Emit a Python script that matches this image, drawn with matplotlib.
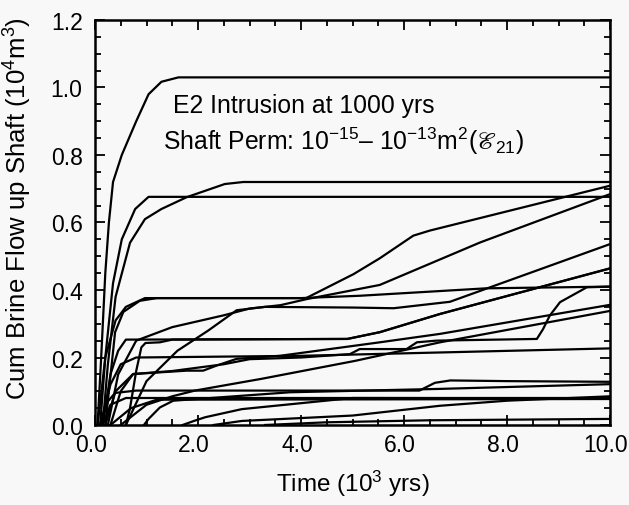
import matplotlib
matplotlib.use("Agg")
import matplotlib.pyplot as plt
import matplotlib.transforms as mtransforms
from matplotlib.ticker import MultipleLocator, FormatStrFormatter

plt.rcParams['font.family'] = ['Liberation Sans', 'DejaVu Sans']
plt.rcParams['mathtext.fontset'] = 'custom'
plt.rcParams['mathtext.rm'] = 'Liberation Sans'
plt.rcParams['mathtext.it'] = 'Liberation Sans:italic'
plt.rcParams['mathtext.fallback'] = 'stix'

# cumulative brine flow curves, (time 10^3 yrs, volume 10^4 m^3)
curve_01 = [(0.05, 0), (0.12, 0.2), (0.2, 0.45), (0.27, 0.6), (0.35, 0.72), (0.52, 0.8), (0.8, 0.9),
            (1.04, 0.98), (1.29, 1.017), (1.62, 1.03), (10, 1.03)]
curve_02 = [(0.1, 0), (0.2, 0.2), (0.35, 0.42), (0.52, 0.55), (0.78, 0.64), (1.04, 0.676), (10, 0.676)]
curve_03 = [(0.15, 0), (0.25, 0.18), (0.4, 0.38), (0.68, 0.54), (0.97, 0.61), (1.29, 0.64), (1.78, 0.675),
            (2.52, 0.714), (2.88, 0.72), (10, 0.72)]
curve_04 = [(0.05, 0), (0.2, 0.2), (0.4, 0.31), (0.6, 0.35), (0.97, 0.376), (4.1, 0.376), (5.02, 0.447),
            (5.53, 0.494), (6.18, 0.561), (6.5, 0.576), (10, 0.709)]
curve_05 = [(0.2, 0), (0.39, 0.275), (0.55, 0.335), (0.87, 0.368), (1.2, 0.376), (4.0, 0.376), (5.15, 0.383),
            (7.6, 0.405), (10, 0.41)]
curve_06 = [(0.25, 0), (0.45, 0.15), (0.8, 0.25), (1.5, 0.29), (2.5, 0.325), (3.0, 0.345), (3.6, 0.355),
            (4.11, 0.373), (5.53, 0.415), (7.48, 0.541), (10, 0.684)]
curve_07 = [(0.6, 0), (1.0, 0.13), (1.6, 0.22), (2.2, 0.28), (2.75, 0.34), (3.3, 0.35), (5.0, 0.348),
            (5.8, 0.346), (6.89, 0.365), (10, 0.536)]
curve_08 = [(0.15, 0), (0.3, 0.15), (0.45, 0.22), (0.6, 0.253), (4.9, 0.255), (5.53, 0.275), (6.7, 0.329),
            (10, 0.464)]
curve_09 = [(0.6, 0), (0.68, 0.05), (0.8, 0.16), (0.9, 0.23), (0.98, 0.243), (1.26, 0.245), (1.5, 0.253),
            (4.9, 0.255), (5.53, 0.275), (6.7, 0.329), (10, 0.464)]
curve_10 = [(0.3, 0), (0.5, 0.1), (0.74, 0.151), (1.78, 0.161), (2.1, 0.161), (2.36, 0.176), (2.75, 0.196),
            (3.59, 0.205), (5.53, 0.245), (6.7, 0.27), (10, 0.356)]
curve_11 = [(0.5, 0), (1.0, 0.06), (1.5, 0.085), (1.94, 0.102), (3.24, 0.137), (5.05, 0.19), (6.7, 0.245),
            (10, 0.338)]
curve_12 = [(0.2, 0), (0.4, 0.1), (0.74, 0.151), (1.5, 0.16), (2.0, 0.17), (2.5, 0.18), (3.0, 0.195),
            (4.0, 0.2), (4.95, 0.21), (5.14, 0.225), (6.05, 0.225), (6.25, 0.245), (6.63, 0.25), (8.58, 0.255),
            (8.7, 0.284), (8.83, 0.324), (9.03, 0.364), (9.55, 0.408), (10, 0.41)]
curve_13 = [(0.1, 0), (0.3, 0.12), (0.5, 0.18), (0.8, 0.2), (4.0, 0.205), (10, 0.227)]
curve_14 = [(0.1, 0), (0.25, 0.07), (0.39, 0.095), (0.8, 0.102), (6.3, 0.102), (6.6, 0.125), (6.9, 0.132),
            (8.0, 0.13), (10, 0.128)]
curve_15 = [(0.15, 0), (0.3, 0.06), (0.6, 0.08), (5.0, 0.08), (10, 0.079)]
curve_16 = [(0.3, 0), (0.7, 0.05), (1.2, 0.075), (10, 0.077)]
curve_17 = [(0.95, 0), (1.04, 0.018), (1.26, 0.052), (1.52, 0.072), (3.79, 0.097), (6.7, 0.107), (10, 0.121)]
curve_18 = [(1.7, 0), (1.94, 0.013), (2.14, 0.023), (2.85, 0.047), (5.0, 0.08), (10, 0.08)]
curve_19 = [(2.3, 0), (2.85, 0.012), (5.0, 0.028), (6.7, 0.057), (8.0, 0.072), (10, 0.085)]
curve_20 = [(3.3, 0), (4.5, 0.008), (6.5, 0.014), (10, 0.018)]

curves = [curve_01, curve_02, curve_03, curve_04, curve_05, curve_06, curve_07, curve_08, curve_09, curve_10,
          curve_11, curve_12, curve_13, curve_14, curve_15, curve_16, curve_17, curve_18, curve_19, curve_20]

bg = '#f8f8f8'
fig = plt.figure(figsize=(6.29, 5.06), dpi=100, facecolor=bg)
ax = fig.add_axes([95 / 629, 1 - 426 / 506, 515 / 629, 405 / 506], facecolor=bg)

for c in curves:
    xs = [p[0] for p in c]
    ys = [p[1] for p in c]
    ax.plot(xs, ys, color='black', lw=1.6, solid_joinstyle='round')

ax.set_xlim(0, 10)
ax.set_ylim(0, 1.2)
ax.xaxis.set_major_locator(MultipleLocator(2.0))
ax.xaxis.set_minor_locator(MultipleLocator(0.5))
ax.yaxis.set_major_locator(MultipleLocator(0.2))
ax.yaxis.set_minor_locator(MultipleLocator(0.05))
ax.xaxis.set_major_formatter(FormatStrFormatter('%.1f'))
ax.yaxis.set_major_formatter(FormatStrFormatter('%.1f'))
ax.tick_params(which='both', direction='in', top=True, right=True, width=1.3)
ax.tick_params(which='major', length=7, labelsize=16.5)
ax.tick_params(axis='y', which='major', pad=9)
ax.tick_params(axis='x', which='major', pad=6)
ax.tick_params(which='minor', length=4)
for s in ax.spines.values():
    s.set_linewidth(1.8)

# the scanned x tick labels sit a few pixels left of their ticks
shift = mtransforms.ScaledTranslation(-4 / 100, 0, fig.dpi_scale_trans)
for lab in ax.get_xticklabels():
    lab.set_transform(lab.get_transform() + shift)

ax.set_xlabel('Time (10$^3$ yrs)', fontsize=17.5)
ax.xaxis.set_label_coords(0.5, -0.105)
ax.set_ylabel('Cum Brine Flow up Shaft (10$^4$m$^3$)', fontsize=18.5)
ax.yaxis.set_label_coords(-0.118, 0.538)

ax.text(1.51, 0.927, 'E2 Intrusion at 1000 yrs', fontsize=17.8, va='baseline')
ax.text(1.32, 0.818, 'Shaft Perm: $10^{-15}$\u2013 $10^{-13}$m$^2$($\u2130_{21}$)', fontsize=17.8, va='baseline')

fig.savefig('out.png', dpi=100, facecolor=bg)
